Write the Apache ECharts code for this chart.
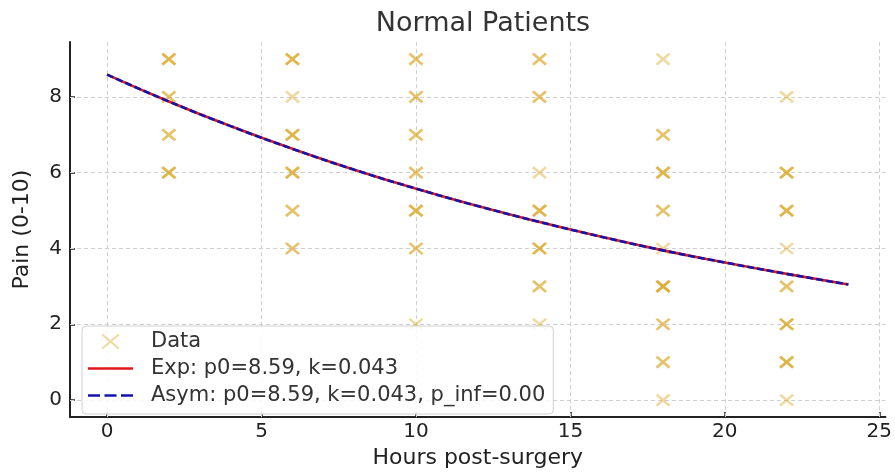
<!DOCTYPE html>
<html>
<head>
<meta charset="utf-8">
<script src="https://cdn.jsdelivr.net/npm/echarts@6/dist/echarts.min.js"></script>
<style>html,body{margin:0;padding:0;background:#fff;}#c{width:895px;height:474px;}</style>
</head>
<body>
<div id="c"></div>
<script>
// Observed data: [hour, pain, number of overlapping observations]
const obsHours = [2,2,2,2, 6,6,6,6,6,6, 10,10,10,10,10,10,10, 14,14,14,14,14,14,14, 18,18,18,18,18,18,18,18,18, 22,22,22,22,22,22,22,22];
const obsPain  = [9,8,7,6, 9,8,7,6,5,4, 9,8,7,6,5,4,2,     9,8,6,5,4,3,2,       9,7,6,5,4,3,2,1,0,        8,6,5,4,3,2,1,0];
const obsCount = [3,2,2,3, 3,1,3,3,2,2, 2,2,2,2,3,2,1,     2,2,1,3,3,2,1,       1,2,3,2,1,4,2,2,1,        1,3,3,1,2,3,3,1];

// Fitted curves
const fitHours = [0,2,4,6,8,10,12,14,16,18,20,22,24];
const fitExp   = [8.59,7.88,7.23,6.63,6.08,5.58,5.12,4.70,4.31,3.95,3.63,3.33,3.05];
const fitAsym  = [8.59,7.88,7.23,6.63,6.08,5.58,5.12,4.70,4.31,3.95,3.63,3.33,3.05];

const xTicks = [0,5,10,15,20,25];
const yTicks = [0,2,4,6,8];

const labels = {
  title: 'Normal Patients',
  xName: 'Hours post-surgery',
  yName: 'Pain (0-10)',
  data: 'Data',
  exp: 'Exp: p0=8.59, k=0.043',
  asym: 'Asym: p0=8.59, k=0.043, p_inf=0.00'
};

const scatterData = [];
obsHours.forEach((h, i) => { for (let n = 0; n < obsCount[i]; n++) scatterData.push([h, obsPain[i]]); });
const expData = fitHours.map((h, i) => [h, fitExp[i]]);
const asymData = fitHours.map((h, i) => [h, fitAsym[i]]);

const FONT = 'DejaVu Sans';
const GOLD = '#DAA520';
const RED = '#e01818';
const BLUE = '#1414aa';
const XPATH = 'path://M0,0L13,11M13,0L0,11';
const RED_ICON = 'path://M0,0h45v2.6h-45z';
const BLUE_ICON = 'path://M0,0h12v2.6h-12zM16.5,0h12v2.6h-12zM33,0h12v2.6h-12z';

const chart = echarts.init(document.getElementById('c'), null, {renderer: 'canvas'});
chart.setOption({
  animation: false,
  backgroundColor: '#fff',
  textStyle: {fontFamily: FONT},
  title: {
    text: labels.title, left: 478, top: 5, textAlign: 'center',
    textStyle: {fontFamily: FONT, fontSize: 27, fontWeight: 'normal', color: '#333'}
  },
  grid: {left: 70, right: 9, top: 42, bottom: 55, containLabel: false},
  xAxis: {
    type: 'value', min: -1.2, max: 25.2,
    name: labels.xName, nameLocation: 'middle', nameGap: 29,
    nameTextStyle: {fontFamily: FONT, fontSize: 22, color: '#222'},
    axisLine: {show: true, onZero: false, lineStyle: {color: '#222', width: 2}},
    axisTick: {show: true, inside: true, length: 5, customValues: xTicks, lineStyle: {color: '#222', width: 1.5}},
    axisLabel: {customValues: xTicks, fontFamily: FONT, fontSize: 20, color: '#222', margin: 5},
    splitLine: {show: false}
  },
  yAxis: {
    type: 'value', min: -0.45, max: 9.45,
    name: labels.yName, nameLocation: 'middle', nameGap: 37, nameRotate: 90,
    nameTextStyle: {fontFamily: FONT, fontSize: 22, color: '#222'},
    axisLine: {show: true, onZero: false, lineStyle: {color: '#222', width: 2}},
    axisTick: {show: true, inside: true, length: 5, customValues: yTicks, lineStyle: {color: '#222', width: 1.5}},
    axisLabel: {customValues: yTicks, fontFamily: FONT, fontSize: 20, color: '#222', margin: 8},
    splitLine: {show: false}
  },
  legend: {
    orient: 'vertical', left: 82, top: 326,
    padding: [5, 8, 8, 6], itemGap: 6, itemWidth: 45, itemHeight: 14,
    backgroundColor: 'rgba(255,255,255,0.85)', borderColor: '#d0d0d0', borderWidth: 1, borderRadius: 4,
    textStyle: {fontFamily: FONT, fontSize: 21, lineHeight: 20, color: '#333', padding: [0, 0, 0, 13]},
    data: [
      {name: labels.data, icon: XPATH},
      {name: labels.exp, icon: RED_ICON},
      {name: labels.asym, icon: BLUE_ICON}
    ]
  },
  series: [
    {
      name: labels.data, type: 'scatter', data: scatterData,
      symbol: XPATH, symbolSize: [13, 11],
      itemStyle: {color: 'rgba(0,0,0,0)', borderColor: GOLD, borderWidth: 2.6, opacity: 0.42},
      z: 2,
      markLine: {
        silent: true, symbol: 'none', label: {show: false},
        lineStyle: {color: '#cfcfcf', type: [4, 3], width: 1, opacity: 1},
        data: xTicks.map(v => ({xAxis: v})).concat(yTicks.map(v => ({yAxis: v}))),
        z: 1
      }
    },
    {
      name: labels.exp, type: 'line', data: expData, smooth: true,
      showSymbol: false, symbol: 'none',
      lineStyle: {color: RED, width: 2.6, type: 'solid'},
      itemStyle: {color: RED}, z: 3
    },
    {
      name: labels.asym, type: 'line', data: asymData, smooth: true,
      showSymbol: false, symbol: 'none',
      lineStyle: {color: BLUE, width: 2.6, type: [7, 3]},
      itemStyle: {color: BLUE}, z: 4
    }
  ]
});
</script>
</body>
</html>
